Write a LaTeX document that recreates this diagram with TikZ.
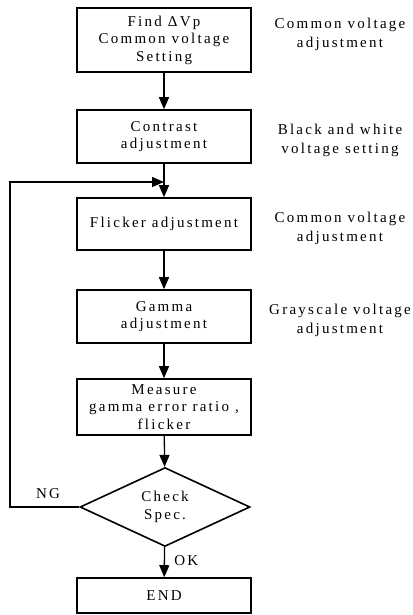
\documentclass[tikz,border=0pt]{standalone}
\usepackage{fontspec}
\setmainfont{Liberation Serif}[LetterSpace=15]
\usetikzlibrary{arrows.meta,shapes.geometric}

\begin{document}
\begin{tikzpicture}[x=1pt, y=-1pt,
    paso/.style={rectangle, draw=black, line width=1.6pt, minimum width=174pt,
                 align=center, inner sep=2pt, font=\fontsize{15}{17.5}\selectfont},
    decision/.style={diamond, draw=black, line width=1.6pt, minimum width=170pt,
                 minimum height=70pt, inner sep=0pt, align=center,
                 font=\fontsize{15}{18}\selectfont},
    nota/.style={align=center, font=\fontsize{15}{19}\selectfont},
    etiqueta/.style={font=\fontsize{15}{17}\selectfont},
    flecha/.style={line width=1.3pt, -{Triangle[length=12pt, width=10pt]}}
  ]
  \useasboundingbox (0,0) rectangle (412,615);

  % pasos del ajuste
  \node[paso, minimum height=64pt] (p1) at (164,40) {Find ΔVp\\ Common voltage\\ Setting};
  \node[paso, minimum height=53pt] (p2) at (164,136.5) {Contrast\\ adjustment};
  \node[paso, minimum height=52pt] (p3) at (164,224) {Flicker adjustment};
  \node[paso, minimum height=53pt] (p4) at (164,316.5) {Gamma\\ adjustment};
  \node[paso, minimum height=56pt] (p5) at (164,407) {Measure\\ gamma error ratio ,\\ flicker};
  \node[decision] (chk) at (165,507) {Check\\ Spec.};
  \node[paso, minimum height=35pt] (fin) at (164,595.5) {END};

  % notas a la derecha
  \node[nota] (n1) at (340,34) {Common voltage\\ adjustment};
  \node[nota] (n2) at (340,140) {Black and white\\ voltage setting};
  \node[nota] (n3) at (340,228) {Common voltage\\ adjustment};
  \node[nota] (n4) at (340,320) {Grayscale voltage\\ adjustment};

  \coordinate (union) at (164,182);
  \coordinate (esq1) at (10,507);
  \coordinate (esq2) at (10,182);

  \draw[flecha] (p1) -- (p2);
  \draw[flecha] (p2) -- (p3);
  \draw[flecha] (p3) -- (p4);
  \draw[flecha] (p4) -- (p5);
  \draw[flecha] (p5) -- (chk);
  \draw[flecha] (chk) -- node[etiqueta, right=6pt, pos=0.45] {OK} (fin);
  \draw[flecha] (chk.west) -- (esq1) -- (esq2) -- (union);

  \node[etiqueta] (ng) at (48,494) {NG};
\end{tikzpicture}
\end{document}
